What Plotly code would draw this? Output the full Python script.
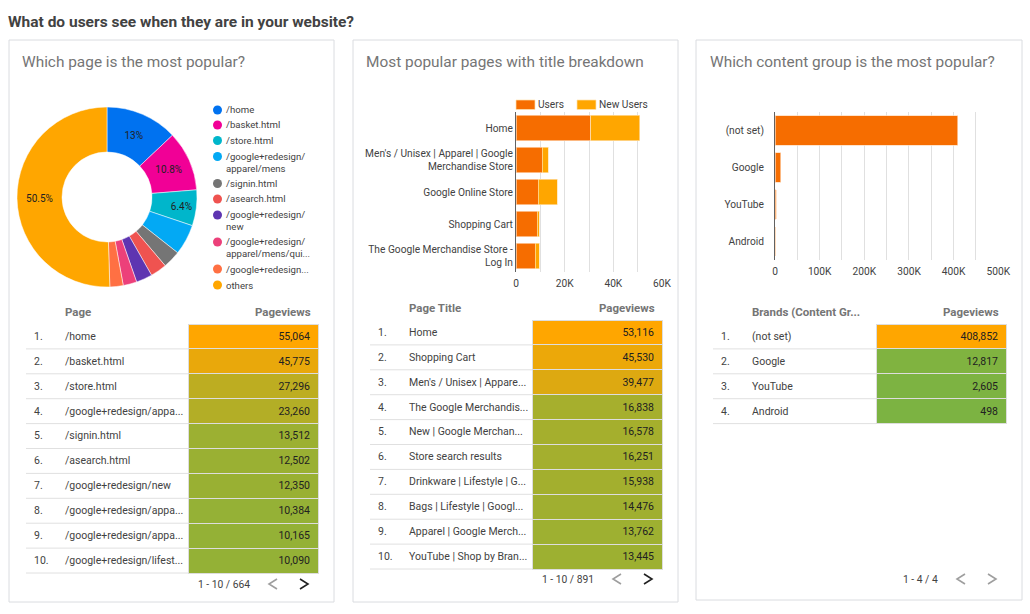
import plotly.graph_objects as go

W, H = 1030, 614
FONT = "Roboto"
TEXT = "#424242"
MUTED = "#757575"
GRID = "#e0e0e0"
ORANGE = (255, 166, 0)
GREEN = (124, 179, 66)
NBSP = "\u00a0"

# pie
pie_labels = ["/home", "/basket.html", "/store.html", "/google+redesign/<br>apparel/mens", "/signin.html",
              "/asearch.html", "/google+redesign/<br>new", "/google+redesign/<br>apparel/mens/qui...",
              "/google+redesign...", "others"]
pie_values = [55064, 45775, 27296, 23260, 13512, 12502, 12350, 10384, 10165, 214560]
pie_text = ["13%", "10.8%", "6.4%", "", "", "", "", "", "", "50.5%"]
pie_colors = ["#0072f0", "#f10096", "#00b6cb", "#03a9f4", "#757575", "#ef5350", "#5e35b1", "#ec407a", "#ff7043", "#ffa600"]

# stacked bars
title_pages = ["Home", "Men's / Unisex | Apparel | Google<br>Merchandise Store", "Google Online Store", "Shopping Cart",
               "The Google Merchandise Store -<br>Log In"]
users = [30700, 10800, 9200, 8800, 7950]
new_users = [20200, 2500, 7700, 700, 1550]

# content group bars
group_names = ["(not set)", "Google", "YouTube", "Android"]
group_views = [408852, 12817, 2605, 498]

# tables
page_rows = ["/home", "/basket.html", "/store.html", "/google+redesign/appa...", "/signin.html", "/asearch.html",
             "/google+redesign/new", "/google+redesign/appa...", "/google+redesign/appa...", "/google+redesign/lifest..."]
page_views = [55064, 45775, 27296, 23260, 13512, 12502, 12350, 10384, 10165, 10090]
title_rows = ["Home", "Shopping Cart", "Men's / Unisex | Appare...", "The Google Merchandis...", "New | Google Merchan...",
              "Store search results", "Drinkware | Lifestyle | G...", "Bags | Lifestyle | Googl...",
              "Apparel | Google Merch...", "YouTube | Shop by Bran..."]
title_views = [53116, 45530, 39477, 16838, 16578, 16251, 15938, 14476, 13762, 13445]
group_rows = ["(not set)", "Google", "YouTube", "Android"]
group_row_views = [408852, 12817, 2605, 498]


def fx(x):
    return x / W


def fy(y):
    return 1 - y / H


def heat(value, top):
    t = value / top
    r, g, b = [round(a + (c - a) * t) for a, c in zip(GREEN, ORANGE)]
    return f"rgb({r},{g},{b})"


def note(text, x, y, size=12, color=TEXT, anchor="left"):
    fig.add_annotation(text=text, x=fx(x), y=fy(y), xref="paper", yref="paper", xanchor=anchor, yanchor="middle",
                       showarrow=False, align="left", xshift=-2 if anchor == "left" else 2,
                       font=dict(size=size, color=color, family=FONT))


def chevron(x, y, direction, color):
    d = 4 * direction
    path = f"M {fx(x - d)} {fy(y - 5)} L {fx(x + d)} {fy(y)} L {fx(x - d)} {fy(y + 5)}"
    fig.add_shape(type="path", path=path, xref="paper", yref="paper", line=dict(color=color, width=1.6))


def add_table(x0, x_heat, x1, top, head, rows, views, pager, pager_x, pager_y, next_color):
    row_h = 24.9
    x_num = x0 + 31
    bottom = top + row_h * len(rows)
    # plotly keeps an empty header about 16px tall, so the domain starts that far above the first row
    fig.add_trace(go.Table(
        domain=dict(x=[fx(x0), fx(x1)], y=[fy(bottom + 4), fy(top - 16)]),
        columnwidth=[x_num - x0, x_heat - x_num, x1 - x_heat],
        header=dict(values=[], height=0, fill_color="rgba(0,0,0,0)", line_color="rgba(0,0,0,0)"),
        cells=dict(values=[[f"{i + 1}." for i in range(len(rows))], [r.replace(" ", NBSP) for r in rows],
                           [f"{v:,}" for v in views]],
                   height=row_h, align=["left", "left", "right"],
                   fill_color=[["rgba(0,0,0,0)"] * len(rows), ["rgba(0,0,0,0)"] * len(rows),
                               [heat(v, max(views)) for v in views]],
                   line=dict(color=["rgba(0,0,0,0)", "rgba(0,0,0,0)", "#dddddd"], width=1),
                   font=dict(size=10.5, color=[TEXT, TEXT, "#212121"], family=FONT)),
    ))
    for i in range(len(rows)):
        y = fy(top + row_h * (i + 1))
        fig.add_shape(type="line", x0=fx(x0), x1=fx(x_heat), y0=y, y1=y, xref="paper", yref="paper",
                      line=dict(color=GRID, width=1))
    note(f"<b>{head}</b>", x_num + 8, top - 12, size=11.5, color=MUTED)
    note("<b>Pageviews</b>", x1 - 7, top - 12, size=11.5, color=MUTED, anchor="right")
    note(pager, pager_x, pager_y, size=10.3)
    chevron(x1 - 45, pager_y, -1, "#9e9e9e")
    chevron(x1 - 14, pager_y, 1, next_color)


fig = go.Figure()

# cards
for x0, x1, y1 in [(9, 334, 602), (353, 678, 602), (696, 1022, 600)]:
    fig.add_shape(type="rect", x0=fx(x0), x1=fx(x1), y0=fy(40), y1=fy(y1), xref="paper", yref="paper",
                  line=dict(color="#dadce0", width=1), fillcolor="white", layer="below")

note("<b>What do users see when they are in your website?</b>", 8, 22, size=15.5, color=TEXT)
note("Which page is the most popular?", 22, 62, size=15.4, color=MUTED)
note("Most popular pages with title breakdown", 366, 62, size=15.4, color=MUTED)
note("Which content group is the most popular?", 710, 62, size=15.4, color=MUTED)

fig.add_trace(go.Pie(
    labels=pie_labels, values=pie_values, text=pie_text, textinfo="text", textposition="inside",
    insidetextorientation="horizontal", hole=0.5, sort=False, direction="clockwise", rotation=0,
    marker=dict(colors=pie_colors, line=dict(color="white", width=0.5)),
    textfont=dict(size=10, color="#212121", family=FONT), showlegend=False,
    domain=dict(x=[fx(17), fx(197)], y=[fy(287), fy(107)]),
))

# pie legend, tighter than a plotly legend can be set
legend_y = [110, 125, 140.5, 162.5, 183.5, 199, 221, 248, 269, 285]
for label, color, y in zip(pie_labels, pie_colors, legend_y):
    first_y = y - 6 if "<br>" in label else y
    fig.add_shape(type="circle", x0=fx(213), x1=fx(222), y0=fy(first_y - 4.5), y1=fy(first_y + 4.5),
                  xref="paper", yref="paper", fillcolor=color, line_width=0)
    note(label, 226, y, size=9.6)

fig.add_trace(go.Bar(y=title_pages, x=users, name="Users", orientation="h", xaxis="x", yaxis="y", showlegend=False,
                     marker=dict(color="#f66d00", line=dict(color="#ffd9b8", width=0.7))))
fig.add_trace(go.Bar(y=title_pages, x=new_users, name="New Users", orientation="h", xaxis="x", yaxis="y", showlegend=False,
                     marker=dict(color="#ffa600", line=dict(color="#ffe3b0", width=0.7))))
fig.add_trace(go.Bar(y=group_names, x=group_views, orientation="h", xaxis="x2", yaxis="y2", showlegend=False,
                     marker=dict(color="#f66d00", line=dict(color="#ffd9b8", width=0.7))))

# bar legend keys
for name, color, x in [("Users", "#f66d00", 516), ("New Users", "#ffa600", 577)]:
    fig.add_shape(type="rect", x0=fx(x), x1=fx(x + 19), y0=fy(100), y1=fy(109.5), xref="paper", yref="paper",
                  fillcolor=color, line=dict(color="#ffe3b0", width=0.7))
    note(name, x + 22, 104.5, size=10.2)

add_table(26, 188, 318, 324, "Page", page_rows, page_views, "1 - 10 / 664", 198, 584, "#212121")
add_table(370, 532, 662, 320, "Page Title", title_rows, title_views, "1 - 10 / 891", 542, 579, "#212121")
add_table(713, 876, 1006, 324, "Brands (Content Gr...", group_rows, group_row_views, "1 - 4 / 4", 903, 579, "#9e9e9e")

tick_font = dict(size=10.2, color=TEXT, family=FONT)
y_common = dict(autorange="reversed", showline=True, linecolor="#616161", linewidth=1, showgrid=False, ticks="",
                tickfont=tick_font, type="category")

fig.update_layout(
    width=W, height=H, margin=dict(l=0, r=0, t=0, b=0, autoexpand=False), paper_bgcolor="white", plot_bgcolor="white",
    barmode="stack", bargap=0.2, font=dict(family=FONT, color=TEXT), showlegend=False,
    xaxis=dict(domain=[fx(516), fx(662)], range=[0, 60000], tickvals=[0, 20000, 40000, 60000],
               ticktext=["0", "20K", "40K", "60K"], anchor="y", minor=dict(dtick=10000, showgrid=True, gridcolor=GRID),
               showline=False, zeroline=False, gridcolor=GRID, ticks="", tickfont=tick_font, ticklabelstandoff=4),
    yaxis=dict(domain=[fy(272), fy(112)], anchor="x", **y_common),
    xaxis2=dict(domain=[fx(775), fx(998.3)], range=[0, 500000], tickvals=[0, 100000, 200000, 300000, 400000, 500000],
                ticktext=["0", "100K", "200K", "300K", "400K", "500K"], anchor="y2",
                minor=dict(dtick=50000, showgrid=True, gridcolor=GRID),
                showline=False, zeroline=False, gridcolor=GRID, ticks="", tickfont=tick_font, ticklabelstandoff=4),
    yaxis2=dict(domain=[fy(260), fy(112)], anchor="x2", ticklabelstandoff=8, **y_common),
)

fig.write_html("out.html", config={"displayModeBar": False},
               post_script="document.body.style.margin='0';document.body.style.overflow='hidden';")
